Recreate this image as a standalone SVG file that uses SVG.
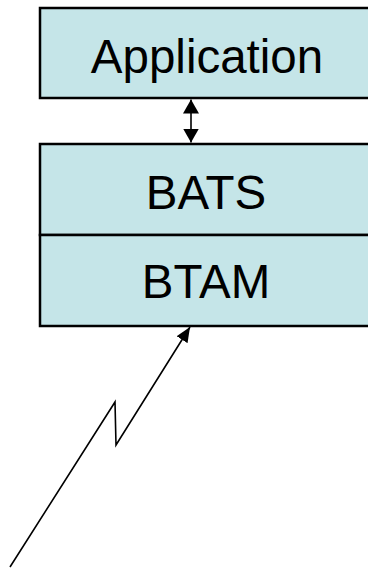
<svg xmlns="http://www.w3.org/2000/svg" width="368" height="568" viewBox="0 0 368 568">
<style>
.box{fill:#C5E5E8;stroke:#000;stroke-width:2.5}
.lbl{font-family:"Liberation Sans",Arial,sans-serif;font-size:47.5px;fill:#000;text-anchor:middle}
.conn{fill:none;stroke:#000;stroke-width:1.6}
</style>
<defs>
<marker id="ahv" viewBox="0 0 10 10" refX="10" refY="5" markerWidth="14" markerHeight="16" markerUnits="userSpaceOnUse" preserveAspectRatio="none" orient="auto-start-reverse">
<path d="M0,0 L10,5 L0,10 z" fill="#000"/>
</marker>
<marker id="ahl" viewBox="0 0 10 10" refX="10" refY="5" markerWidth="15" markerHeight="13" markerUnits="userSpaceOnUse" preserveAspectRatio="none" orient="auto">
<path d="M0,0 L10,5 L0,10 z" fill="#000"/>
</marker>
</defs>
<g id="application">
<rect class="box" x="40" y="8" width="340" height="90"/>
<text class="lbl" x="207" y="73">Application</text>
</g>
<g id="bats">
<rect class="box" x="40" y="144" width="340" height="91"/>
<text class="lbl" x="206" y="209">BATS</text>
</g>
<g id="btam">
<rect class="box" x="40" y="235" width="340" height="91"/>
<text class="lbl" x="206" y="298">BTAM</text>
</g>
<g id="connectors">
<line class="conn" x1="191" y1="99.5" x2="191" y2="142.5" marker-start="url(#ahv)" marker-end="url(#ahv)"/>
<path class="conn" d="M10,567 L115,402 L116,445 L190,327" marker-end="url(#ahl)"/>
</g>
</svg>
